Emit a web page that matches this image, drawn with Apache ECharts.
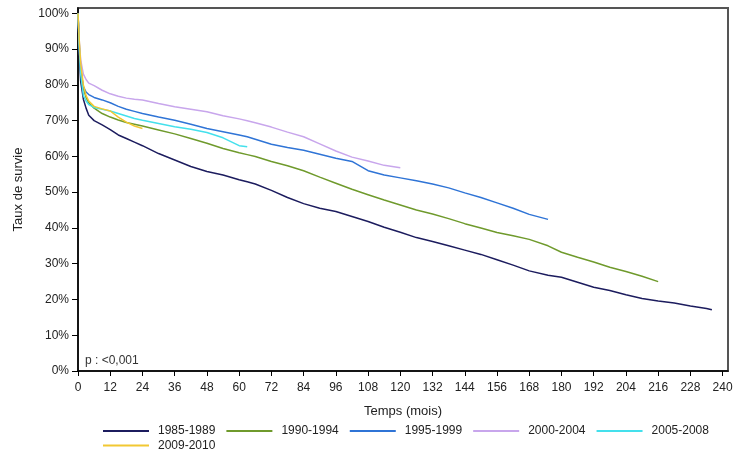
<!DOCTYPE html>
<html>
<head>
<meta charset="utf-8">
<script src="https://cdn.jsdelivr.net/npm/echarts@6/dist/echarts.min.js"></script>
<style>html,body{margin:0;padding:0;background:#fff}#c{width:745px;height:461px}</style>
</head>
<body>
<div id="c"></div>
<script>
const months = [0,0.5,1,2,3,4,6,9,12,15,18,21,24,30,36,42,48,54,60,63,66,72,78,84,90,96,102,108,114,120,126,132,138,144,150,156,162,168,175,180,186,192,198,204,210,216,222,228,234,236];
const xTicks = [0,12,24,36,48,60,72,84,96,108,120,132,144,156,168,180,192,204,216,228,240];
const yTicks = [0,10,20,30,40,50,60,70,80,90,100];
const seriesNames = ['1985-1989','1990-1994','1995-1999','2000-2004','2005-2008','2009-2010'];
const s1985 = [100,88,81,76,73.5,71.5,70,68.8,67.5,66,65,64,63,60.8,59,57.2,55.8,54.8,53.5,52.9,52.3,50.5,48.5,46.8,45.5,44.6,43.2,41.8,40.2,38.8,37.3,36.2,35,33.8,32.6,31.1,29.6,28,26.8,26.2,24.8,23.4,22.5,21.3,20.3,19.6,19.0,18.2,17.5,17.1];
const s1990 = [100,91,85,79,76.5,75,73.5,72,71,70.2,69.5,69,68.5,67.4,66.3,65,63.7,62.2,61,60.5,60,58.6,57.4,56,54.2,52.5,50.8,49.3,47.8,46.4,45,43.9,42.6,41.2,40,38.7,37.8,36.8,35,33.2,31.8,30.5,29,27.8,26.5,25];
const s1995 = [100,90,84,79.5,78,77.3,76.5,75.8,75,74,73.2,72.6,72,71,70.1,69,67.8,66.9,66,65.5,64.8,63.4,62.5,61.7,60.6,59.5,58.6,56,54.8,54,53.2,52.3,51.2,49.8,48.5,47,45.5,43.8,42.4];
const s2000 = [100,92,87,83,81.5,80.5,79.8,78.5,77.5,76.8,76.3,76,75.8,74.8,73.9,73.2,72.5,71.4,70.5,70,69.4,68.2,66.8,65.5,63.5,61.5,59.8,58.7,57.5,56.8];
const s2005 = [100,90,83,77,75.5,74.5,73.7,73.2,72.7,72,71.3,70.6,70.1,69.2,68.3,67.6,66.7,65.2,63,62.7];
const s2009 = [100,92,86,80,77,75.5,74,73.3,72.7,71,69.6,68.5,67.8];
const colors = ['#1c1c5e','#6f9a2c','#2f74d6','#c8a6ec','#44e0ec','#f2c832'];
const allSeries = [s1985,s1990,s1995,s2000,s2005,s2009];

const chart = echarts.init(document.getElementById('c'));
const legendCommon = {
  icon: 'rect', itemWidth: 46, itemHeight: 2, itemGap: 11, padding: 0,
  orient: 'horizontal',
  textStyle: {fontFamily: 'Liberation Sans, Arial, sans-serif', fontSize: 12, color: '#222', lineHeight: 14, padding: [0,0,0,4]}
};
chart.setOption({
  animation: false,
  backgroundColor: '#fff',
  color: colors,
  title: {
    text: 'p : <0,001', left: 85, top: 355, padding: 0,
    textStyle: {fontFamily: 'Liberation Sans, Arial, sans-serif', fontSize: 12, fontWeight: 'normal', color: '#333'}
  },
  grid: {left: 78, right: 17, top: 8, bottom: 90, show: true, borderColor: '#555', borderWidth: 2, backgroundColor: 'transparent'},
  legend: [
    Object.assign({}, legendCommon, {left: 103, top: 424, data: seriesNames.slice(0,5)}),
    Object.assign({}, legendCommon, {left: 103, top: 438.5, data: seriesNames.slice(5)})
  ],
  xAxis: {
    type: 'value', min: 0, max: 242,
    name: 'Temps (mois)', nameLocation: 'middle', nameGap: 34,
    nameTextStyle: {fontFamily: 'Liberation Sans, Arial, sans-serif', fontSize: 13, color: '#222'},
    axisLine: {show: true, onZero: false, lineStyle: {color: '#000', width: 1.5}},
    axisTick: {show: true, length: 5, customValues: xTicks, lineStyle: {color: '#000'}},
    axisLabel: {customValues: xTicks, margin: 11, fontFamily: 'Liberation Sans, Arial, sans-serif', fontSize: 12, color: '#222'},
    splitLine: {show: false}
  },
  yAxis: {
    type: 'value', min: 0, max: 101.5,
    name: 'Taux de survie', nameLocation: 'middle', nameGap: 53,
    nameTextStyle: {fontFamily: 'Liberation Sans, Arial, sans-serif', fontSize: 13, color: '#222'},
    axisLine: {show: true, onZero: false, lineStyle: {color: '#000', width: 1.5}},
    axisTick: {show: true, length: 6, customValues: yTicks, lineStyle: {color: '#000'}},
    axisLabel: {customValues: yTicks, margin: 9, formatter: '{value}%', fontFamily: 'Liberation Sans, Arial, sans-serif', fontSize: 12, color: '#222'},
    splitLine: {show: false}
  },
  series: allSeries.map((vals, i) => ({
    name: seriesNames[i],
    type: 'line',
    symbol: 'none',
    showSymbol: false,
    lineStyle: {width: 1.5, color: colors[i]},
    itemStyle: {color: colors[i]},
    data: vals.map((v, k) => [months[k], v])
  }))
});
</script>
</body>
</html>
